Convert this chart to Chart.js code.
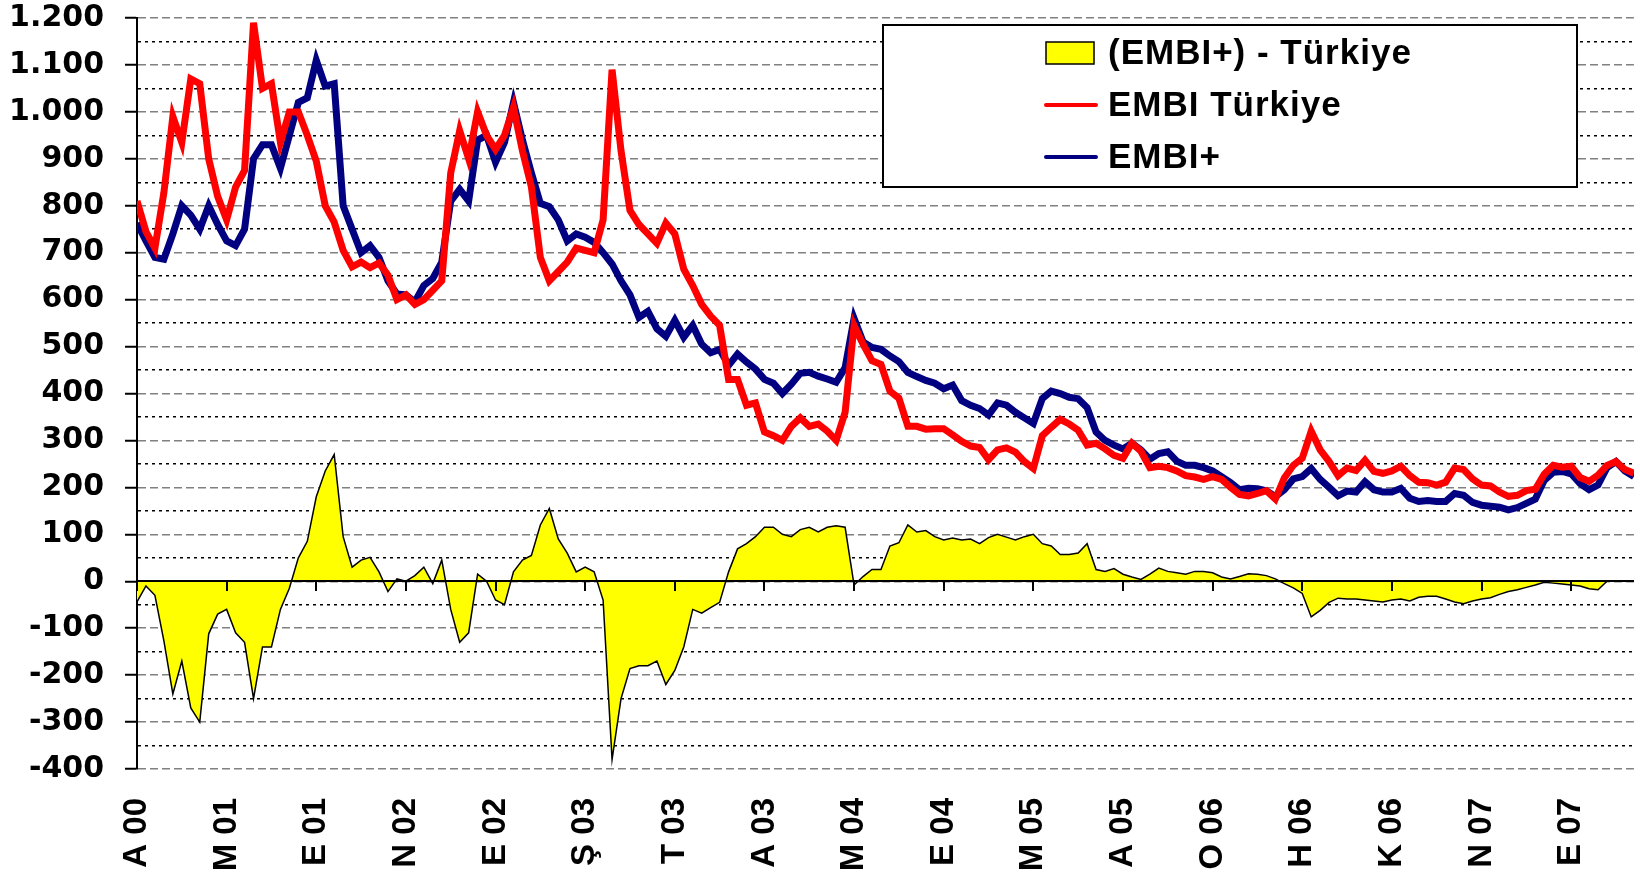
<!DOCTYPE html>
<html>
<head>
<meta charset="utf-8">
<script src="https://cdn.jsdelivr.net/npm/chart.js@4.4.1/dist/chart.umd.min.js"></script>
<style>
  html, body { margin: 0; padding: 0; background: #fff; }
  #wrap { width: 1640px; height: 874px; }
</style>
</head>
<body>
<div id="wrap"><canvas id="graficoEmbi" width="1640" height="874"></canvas></div>
<script>
// etiquetas del eje x, una cada 10 observaciones
var etiquetas = ['A 00', 'M 01', 'E 01', 'N 02', 'E 02', 'Ş 03', 'T 03', 'A 03', 'M 04',
  'E 04', 'M 05', 'A 05', 'O 06', 'H 06', 'K 06', 'N 07', 'E 07'];
var puntosPorEtiqueta = 10;

// EMBI Türkiye (puntos básicos)
var embiTurkiye = [
  810, 745, 710, 828, 990, 935, 1070, 1060, 900, 820,
  770, 840, 875, 1190, 1050, 1060, 935, 1000, 1000, 950,
  895, 800, 765, 705, 670, 680, 668, 678, 652, 600,
  610, 590, 600, 620, 640, 870, 960, 900, 1000, 950,
  920, 950, 1010, 917, 840, 690, 640, 660, 680, 710,
  705, 700, 770, 1090, 917, 790, 760, 740, 720, 763,
  740, 665, 630, 590, 565, 545, 430, 430, 375, 380,
  318, 310, 300, 330, 348, 330, 335, 320, 300, 360,
  545, 505, 470, 462, 405, 390, 330, 330, 324, 325,
  325, 312, 298, 288, 285, 259, 280, 284, 275, 255,
  240, 310, 328, 345, 335, 322, 290, 294, 282, 268,
  262, 294, 277, 242, 245, 242, 235, 225, 222, 217,
  223, 217, 200, 185, 182, 187, 193, 175, 220, 247,
  262, 320, 280, 255, 225, 241, 236, 258, 234, 230,
  235, 245, 225, 211, 210, 205, 211, 241, 238, 218,
  205, 203, 190, 181, 183, 193, 196, 228, 247, 243,
  245, 221, 213, 226, 247, 255, 238, 230
];

// EMBI+
var embiPlus = [
  763, 725, 690, 686, 740, 800, 780, 750, 800, 760,
  725, 715, 750, 900, 930, 930, 880, 950, 1020, 1030,
  1110, 1055, 1060, 800, 750, 700, 715, 690, 640, 612,
  610, 595, 630, 645, 680, 810, 835, 810, 940, 950,
  893, 935, 1020, 940, 870, 805, 798, 770, 725, 740,
  733, 722, 700, 676, 640, 610, 562, 575, 538, 522,
  556, 520, 545, 505, 487, 494, 460, 484, 467, 452,
  430, 422, 400, 420, 443, 445, 437, 431, 424, 455,
  560, 510, 498, 494, 480, 468, 445, 436, 428, 422,
  410, 418, 385, 375, 368, 354, 380, 375, 360, 348,
  336, 389, 405, 400, 392, 389, 370, 318, 300, 290,
  282, 294, 280, 260, 272, 276, 256, 247, 247, 242,
  235, 223, 210, 195, 198, 197, 193, 180, 195, 218,
  223, 240, 217, 200, 182, 192, 190, 212, 195, 190,
  190, 198, 177, 170, 172, 170, 170, 187, 183, 168,
  162, 160, 158, 152, 157, 166, 175, 215, 232, 234,
  229, 208, 195, 205, 242, 255, 235, 223
];

// (EMBI+) - Türkiye
var diferencia = [
  -44, -10, -30, -127, -240, -170, -270, -300, -112, -70,
  -60, -110, -130, -250, -140, -140, -60, -15, 50, 85,
  180, 235, 270, 95, 30, 45, 51, 20, -22, 5,
  0, 12, 30, -5, 45, -60, -130, -110, 15, 0,
  -40, -50, 20, 45, 55, 120, 155, 90, 60, 20,
  30, 20, -40, -380, -250, -186, -180, -180, -170, -220,
  -190, -140, -60, -68, -56, -45, 20, 69, 80, 95,
  115, 115, 100, 95, 110, 115, 105, 115, 118, 115,
  -8, 10, 25, 25, 75, 82, 120, 105, 108, 95,
  88, 92, 88, 90, 80, 93, 100, 94, 88, 95,
  100, 80, 75, 57, 57, 60, 80, 25, 21, 27,
  15, 9, 4, 15, 28, 21, 18, 15, 21, 21,
  18, 9, 5, 10, 16, 15, 12, 5, -5, -14,
  -26, -76, -62, -45, -36, -38, -38, -40, -42, -44,
  -40, -38, -42, -34, -32, -32, -38, -44, -48, -42,
  -38, -35, -28, -22, -18, -13, -8, -2, -4, -6,
  -8, -10, -16, -18, 0, 1, 0, 1
];

function aPuntos(valores) {
  return valores.map(function (v, i) {
    return { x: i / puntosPorEtiqueta, y: v };
  });
}

// 1200 -> "1.200"
function formatoMiles(v) {
  if (Math.abs(v) >= 1000) {
    var miles = Math.floor(Math.abs(v) / 1000);
    var resto = String(Math.abs(v) % 1000).padStart(3, '0');
    return (v < 0 ? '-' : '') + miles + '.' + resto;
  }
  return String(v);
}

// linea del cero con sus marcas (el eje x cruza en 0)
var lineaCero = {
  id: 'lineaCero',
  afterDatasetsDraw: function (chart) {
    var ctx = chart.ctx;
    var area = chart.chartArea;
    var ejeX = chart.scales.x;
    var y0 = Math.round(chart.scales.y.getPixelForValue(0));
    ctx.save();
    ctx.strokeStyle = '#000';
    ctx.lineWidth = 2;
    ctx.beginPath();
    ctx.moveTo(area.left, y0);
    ctx.lineTo(area.right, y0);
    etiquetas.forEach(function (e, k) {
      var px = Math.round(ejeX.getPixelForValue(k));
      ctx.moveTo(px, y0);
      ctx.lineTo(px, y0 + 10);
    });
    ctx.stroke();
    ctx.restore();
  }
};

// leyenda dentro del grafico
var leyenda = {
  id: 'leyenda',
  afterDraw: function (chart) {
    var ctx = chart.ctx;
    var ds = chart.data.datasets;
    ctx.save();
    ctx.fillStyle = '#fff';
    ctx.fillRect(883, 25, 694, 162);
    ctx.strokeStyle = '#000';
    ctx.lineWidth = 2;
    ctx.strokeRect(883, 25, 694, 162);

    var filas = [53, 105, 157];
    ds.forEach(function (d, k) {
      var yc = filas[k];
      if (d.fill) {
        ctx.fillStyle = d.backgroundColor;
        ctx.fillRect(1046, yc - 11, 48, 22);
        ctx.lineWidth = 1.5;
        ctx.strokeStyle = '#000';
        ctx.strokeRect(1046, yc - 11, 48, 22);
      } else {
        ctx.strokeStyle = d.borderColor;
        ctx.lineWidth = 4;
        ctx.lineCap = 'round';
        ctx.beginPath();
        ctx.moveTo(1046, yc);
        ctx.lineTo(1096, yc);
        ctx.stroke();
      }
      ctx.fillStyle = '#000';
      ctx.font = 'bold 35px "Liberation Sans", Arial, sans-serif';
      ctx.letterSpacing = '1px';
      ctx.textBaseline = 'middle';
      ctx.textAlign = 'left';
      ctx.fillText(d.label, 1108, yc + 1);
    });
    ctx.restore();
  }
};

var ctx = document.getElementById('graficoEmbi').getContext('2d');
var myChart = new Chart(ctx, {
  type: 'line',
  data: {
    datasets: [{
      label: '(EMBI+) - Türkiye',
      data: aPuntos(diferencia),
      fill: 'origin',
      backgroundColor: '#FFFF00',
      borderColor: '#000',
      borderWidth: 1.5,
      pointRadius: 0,
      tension: 0,
      order: 3
    }, {
      label: 'EMBI Türkiye',
      data: aPuntos(embiTurkiye),
      fill: false,
      borderColor: '#FF0000',
      borderWidth: 7,
      pointRadius: 0,
      tension: 0,
      order: 1
    }, {
      label: 'EMBI+',
      data: aPuntos(embiPlus),
      fill: false,
      borderColor: '#000080',
      borderWidth: 7,
      pointRadius: 0,
      tension: 0,
      order: 2
    }]
  },
  options: {
    responsive: false,
    animation: false,
    devicePixelRatio: 1,
    events: [],
    layout: { padding: { top: 0, right: 6, left: 0, bottom: 0 } },
    plugins: {
      legend: { display: false },
      tooltip: { enabled: false }
    },
    scales: {
      x: {
        type: 'linear',
        min: 0,
        max: (embiTurkiye.length - 1) / puntosPorEtiqueta,
        afterBuildTicks: function (s) {
          s.ticks = etiquetas.map(function (e, k) { return { value: k }; });
        },
        afterFit: function (s) { s.height = 105; },
        grid: { display: false, drawTicks: false },
        border: { display: false },
        ticks: {
          autoSkip: false,
          minRotation: 90,
          maxRotation: 90,
          padding: 29,
          color: '#000',
          font: { family: '"Liberation Sans", Arial, sans-serif', size: 33, weight: 'bold' },
          callback: function (v) { return etiquetas[v] || ''; }
        }
      },
      y: {
        min: -400,
        max: 1200,
        afterFit: function (s) {
          s.width = 137;
          s.paddingTop = 18;
          s.paddingBottom = 0;
        },
        ticks: {
          stepSize: 50,
          autoSkip: false,
          padding: 21,
          color: '#000',
          font: { family: '"DejaVu Sans", sans-serif', size: 30, weight: 'bold' },
          callback: function (v) { return v % 100 === 0 ? formatoMiles(v) : ''; }
        },
        grid: {
          lineWidth: 1.5,
          color: function (c) { return c.tick && c.tick.value % 100 === 0 ? '#808080' : '#000'; },
          tickLength: 12,
          tickWidth: 2,
          tickColor: function (c) { return c.tick && c.tick.value % 100 === 0 ? '#000' : 'rgba(0,0,0,0)'; }
        },
        border: {
          display: true,
          color: '#000',
          width: 2,
          dash: function (c) {
            if (c.type !== 'tick') return [];
            return c.tick.value % 100 === 0 ? [8, 4] : [3, 4];
          }
        }
      }
    }
  },
  plugins: [lineaCero, leyenda]
});
</script>
</body>
</html>
